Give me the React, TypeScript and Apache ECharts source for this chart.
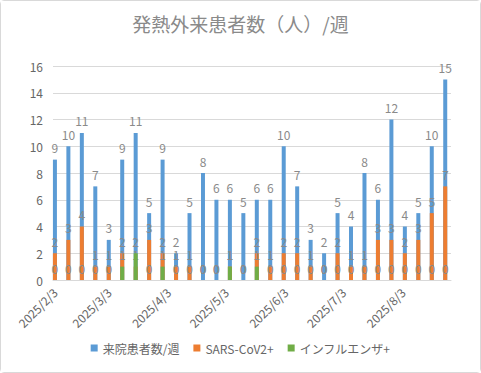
import React, { useEffect, useRef } from "react";
import * as echarts from "echarts";

const weeks = [
  "2025/2/3", "2025/2/10", "2025/2/17", "2025/2/24", "2025/3/3", "2025/3/10",
  "2025/3/17", "2025/3/24", "2025/3/31", "2025/4/7", "2025/4/14", "2025/4/21",
  "2025/4/28", "2025/5/5", "2025/5/12", "2025/5/19", "2025/5/26", "2025/6/2",
  "2025/6/9", "2025/6/16", "2025/6/23", "2025/6/30", "2025/7/7", "2025/7/14",
  "2025/7/21", "2025/7/28", "2025/8/4", "2025/8/11", "2025/8/18", "2025/8/25",
];
const visitors = [9, 10, 11, 7, 3, 9, 11, 5, 9, 2, 5, 8, 6, 6, 5, 6, 6, 10, 7, 3, 2, 5, 4, 8, 6, 12, 4, 5, 10, 15];
const covid = [2, 3, 4, 1, 1, 2, 1, 3, 2, 1, 1, 0, 0, 1, 0, 2, 1, 2, 2, 1, 0, 2, 1, 1, 3, 3, 2, 3, 5, 7];
const flu = [0, 0, 0, 0, 0, 1, 2, 0, 1, 0, 0, 0, 0, 1, 0, 1, 0, 0, 0, 0, 0, 0, 0, 0, 0, 0, 0, 0, 0, 0];
const monthLabels = ["2025/2/3", "2025/3/3", "2025/4/3", "2025/5/3", "2025/6/3", "2025/7/3", "2025/8/3"];
const seriesNames = ["来院患者数/週", "SARS-CoV2+", "インフルエンザ+"];
const axisMin = "2025/2/2";
const axisMax = "2025/8/28";

const toTime = (s: string) => {
  const [y, m, d] = s.split("/").map(Number);
  return new Date(y, m - 1, d).getTime();
};

export default function App() {
  const ref = useRef<HTMLDivElement>(null);
  useEffect(() => {
    if (!ref.current) return;
    const chart = echarts.init(ref.current, null, { renderer: "svg" });
    const font = "'Noto Sans CJK JP', 'Noto Sans', sans-serif";
    const labelStyle = {
      show: true,
      position: "top" as const,
      distance: 6,
      fontSize: 12,
      color: "#8a8a8a",
      textBorderWidth: 0,
      textBorderColor: "transparent",
      fontFamily: font,
    };
    const mk = (vals: number[]) => vals.map((v, i) => [toTime(weeks[i]), v]);
    chart.setOption({
      animation: false,
      backgroundColor: "#ffffff",
      title: {
        text: "発熱外来患者数（人）/週",
        left: "center",
        top: 8,
        textStyle: { fontSize: 19, fontWeight: "normal", color: "#8a8a8a", fontFamily: font },
      },
      legend: {
        bottom: 13,
        left: "center",
        itemWidth: 7,
        itemHeight: 7,
        itemGap: 14,
        icon: "rect",
        textStyle: { fontSize: 12, color: "#666666", fontFamily: font },
        data: seriesNames,
      },
      grid: { left: 52, right: 29, top: 65, bottom: 92, containLabel: false },
      xAxis: {
        type: "value",
        min: toTime(axisMin),
        max: toTime(axisMax),
        axisLine: { show: true, lineStyle: { color: "#d9d9d9" } },
        axisTick: { show: false },
        splitLine: { show: false },
        axisLabel: {
          customValues: monthLabels.map(toTime),
          rotate: 45,
          fontSize: 12,
          color: "#666666",
          fontFamily: font,
          margin: 10,
          formatter: (v: number) => {
            const d = new Date(v);
            return `${d.getFullYear()}/${d.getMonth() + 1}/${d.getDate()}`;
          },
        },
      },
      yAxis: {
        type: "value",
        min: 0,
        max: 16,
        interval: 2,
        axisLine: { show: false },
        axisTick: { show: false },
        splitLine: { lineStyle: { color: "#d9d9d9" } },
        axisLabel: { fontSize: 12, color: "#666666", fontFamily: font, margin: 10 },
      },
      series: [
        {
          name: seriesNames[0],
          type: "bar",
          data: mk(visitors),
          barWidth: 4,
          barGap: "-100%",
          itemStyle: { color: "#5B9BD5" },
          label: labelStyle,
          z: 1,
        },
        {
          name: seriesNames[1],
          type: "bar",
          data: mk(covid),
          barWidth: 4,
          barGap: "-100%",
          itemStyle: { color: "#ED7D31" },
          label: labelStyle,
          z: 2,
        },
        {
          name: seriesNames[2],
          type: "bar",
          data: mk(flu),
          barWidth: 4,
          barGap: "-100%",
          itemStyle: { color: "#70AD47" },
          label: labelStyle,
          z: 3,
        },
      ],
    });
    return () => chart.dispose();
  }, []);
  return (
    <div
      style={{
        position: "fixed",
        left: 0,
        top: 0,
        width: 481,
        height: 373,
        boxSizing: "border-box",
        border: "1px solid #d9d9d9",
        borderRadius: 4,
        background: "#fff",
      }}
    >
      <div ref={ref} style={{ width: 479, height: 371 }} />
    </div>
  );
}
